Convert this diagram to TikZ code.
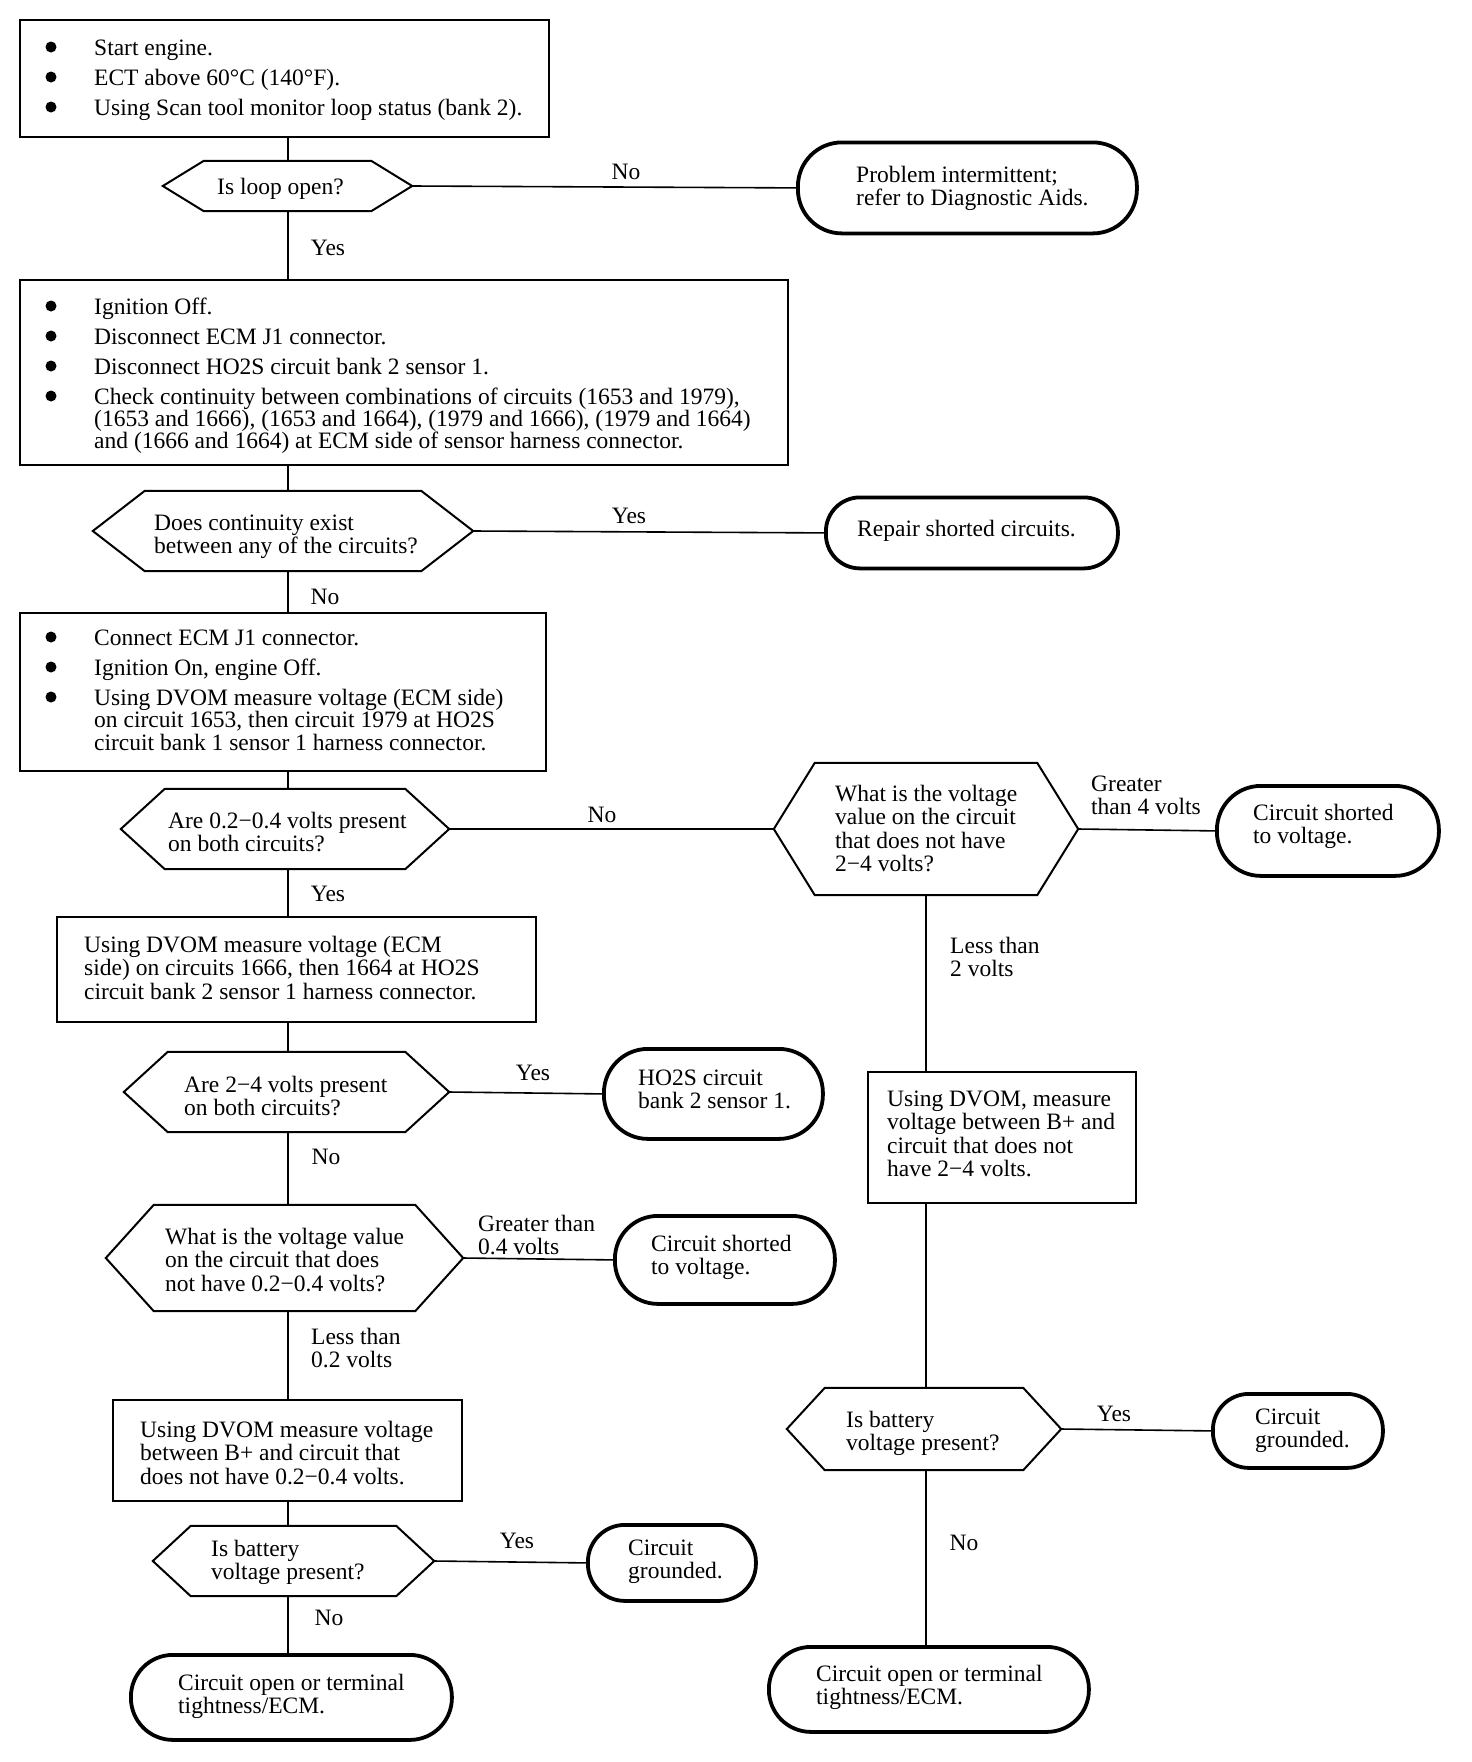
\documentclass[tikz,border=0pt]{standalone}
\usepackage{fontspec}
\setmainfont{Liberation Serif}
\newcommand{\bitem}{\hspace*{50pt}}
\newcommand{\hexdraw}[2]{\draw[hexline] (#1.west) -- ([xshift=#2pt]#1.north west) -- ([xshift=-#2pt]#1.north east) -- (#1.east) -- ([xshift=-#2pt]#1.south east) -- ([xshift=#2pt]#1.south west) -- cycle;}
\tikzset{
  fnt/.style={font=\fontsize{23.5}{23.5}\selectfont},
  boxst/.style={draw, line width=2pt, rectangle, inner sep=0pt, anchor=north west},
  hexst/.style={rectangle, inner sep=0pt, anchor=center},
  stad/.style={draw, line width=3.8pt, rectangle, rounded corners=#1, inner sep=0pt, anchor=north west},
  txt/.style={fnt, inner sep=0pt, anchor=base west},
  lab/.style={fnt, inner sep=0pt, anchor=center},
  conn/.style={line width=1.6pt},
  hexline/.style={line width=2pt, line join=miter},
  bulletdot/.style={fill=black},
}
\begin{document}
\begin{tikzpicture}[x=1pt, y=-1pt]
\fill[white] (0,0) rectangle (1472,1762);
\useasboundingbox (0,0) rectangle (1472,1762);
\coordinate (sp) at (288,0);
\coordinate (rs) at (926,0);

% ---------- rectangles ----------
\node[boxst, minimum width=529, minimum height=117] (B1) at (19,19) {};
\node[boxst, minimum width=768, minimum height=185] (B2) at (19,279) {};
\node[boxst, minimum width=526, minimum height=158] (B3) at (19,612) {};
\node[boxst, minimum width=479, minimum height=105] (B4) at (56,916) {};
\node[boxst, minimum width=349, minimum height=101] (B5) at (112,1399) {};
\node[boxst, minimum width=268, minimum height=131] (BR) at (867,1071) {};

% ---------- hexagons ----------
\node[hexst, minimum width=249, minimum height=50] (H1) at (287.5,186) {};
\node[hexst, minimum width=380, minimum height=80] (H2) at (283,531) {};
\node[hexst, minimum width=328, minimum height=80] (H3) at (285,829) {};
\node[hexst, minimum width=304, minimum height=132] (HR) at (926,829) {};
\node[hexst, minimum width=325, minimum height=80] (H4) at (286.5,1092) {};
\node[hexst, minimum width=357, minimum height=106] (H5) at (284.5,1258) {};
\node[hexst, minimum width=281, minimum height=70] (H6) at (293.5,1561) {};
\node[hexst, minimum width=274, minimum height=82] (H7) at (924,1429) {};
\hexdraw{H1}{41}
\hexdraw{H2}{52}
\hexdraw{H3}{44}
\hexdraw{HR}{41}
\hexdraw{H4}{44}
\hexdraw{H5}{48}
\hexdraw{H6}{38}
\hexdraw{H7}{38}

% ---------- terminals ----------
\node[stad=44pt, minimum width=339, minimum height=91] (S1) at (796,140.5) {};
\node[stad=34pt, minimum width=292, minimum height=71] (S2) at (824,495.5) {};
\node[stad=44pt, minimum width=222, minimum height=90] (SR1) at (1215,784) {};
\node[stad=44pt, minimum width=219, minimum height=90] (S4) at (602,1047) {};
\node[stad=43pt, minimum width=220, minimum height=88] (S5) at (613,1214) {};
\node[stad=37pt, minimum width=168, minimum height=76] (S6) at (586,1523) {};
\node[stad=42pt, minimum width=321, minimum height=85] (S7) at (129,1653) {};
\node[stad=36pt, minimum width=170, minimum height=74] (SR2) at (1211,1392) {};
\node[stad=42pt, minimum width=320, minimum height=85] (SR3) at (767,1645) {};

% ---------- connectors ----------
\draw[conn] (B1.south -| sp) -- (H1.north -| sp);
\draw[conn] (H1.east) -- (S1.west);
\draw[conn] (H1.south -| sp) -- (B2.north -| sp);
\draw[conn] (B2.south -| sp) -- (H2.north -| sp);
\draw[conn] (H2.east) -- (S2.west);
\draw[conn] (H2.south -| sp) -- (B3.north -| sp);
\draw[conn] (B3.south -| sp) -- (H3.north -| sp);
\draw[conn] (H3.east) -- (HR.west);
\draw[conn] (H3.south -| sp) -- (B4.north -| sp);
\draw[conn] (B4.south -| sp) -- (H4.north -| sp);
\draw[conn] (H4.east) -- (S4.west);
\draw[conn] (H4.south -| sp) -- (H5.north -| sp);
\draw[conn] (H5.east) -- (S5.west);
\draw[conn] (H5.south -| sp) -- (B5.north -| sp);
\draw[conn] (B5.south -| sp) -- (H6.north -| sp);
\draw[conn] (H6.east) -- (S6.west);
\draw[conn] (H6.south -| sp) -- (S7.north -| sp);
\draw[conn] (HR.east) -- (SR1.west);
\draw[conn] (HR.south -| rs) -- (BR.north -| rs);
\draw[conn] (BR.south -| rs) -- (H7.north -| rs);
\draw[conn] (H7.east) -- (SR2.west);
\draw[conn] (H7.south -| rs) -- (SR3.north -| rs);

% ---------- bullets ----------
\foreach \by in {47,77,107,306,336,366,396,637,667,697}
  \fill[bulletdot] (51,\by) circle (5.5);

% ---------- texts ----------
\node[txt] (t1) at (44,55) {\begin{tabular}[t]{@{}l@{}l@{}}
\bitem & Start engine.\\[6.5pt]
\bitem & ECT above 60°C (140°F).\\[6.5pt]
\bitem & Using Scan tool monitor loop status (bank 2).
\end{tabular}};
\node[txt] (t2) at (44,314) {\begin{tabular}[t]{@{}l@{}l@{}}
\bitem & Ignition Off.\\[6.5pt]
\bitem & Disconnect ECM J1 connector.\\[6.5pt]
\bitem & Disconnect HO2S circuit bank 2 sensor 1.\\[6.5pt]
\bitem & Check continuity between combinations of circuits (1653 and 1979),\\[-1.5pt]
 & (1653 and 1666), (1653 and 1664), (1979 and 1666), (1979 and 1664)\\[-1.5pt]
 & and (1666 and 1664) at ECM side of sensor harness connector.
\end{tabular}};
\node[txt] (t3) at (44,645) {\begin{tabular}[t]{@{}l@{}l@{}}
\bitem & Connect ECM J1 connector.\\[6.5pt]
\bitem & Ignition On, engine Off.\\[6.5pt]
\bitem & Using DVOM measure voltage (ECM side)\\[-1pt]
 & on circuit 1653, then circuit 1979 at HO2S\\[-1pt]
 & circuit bank 1 sensor 1 harness connector.
\end{tabular}};
\node[txt] (t4) at (217,194) {Is loop open?};
\node[txt] (t5) at (856,182) {\begin{tabular}[t]{@{}l@{}}Problem intermittent;\\refer to Diagnostic Aids.\end{tabular}};
\node[txt] (t6) at (154,530) {\begin{tabular}[t]{@{}l@{}}Does continuity exist\\between any of the circuits?\end{tabular}};
\node[txt] (t7) at (857,536) {Repair shorted circuits.};
\node[txt] (t8) at (168,828) {\begin{tabular}[t]{@{}l@{}}Are 0.2−0.4 volts present\\on both circuits?\end{tabular}};
\node[txt] (t9) at (835,801) {\begin{tabular}[t]{@{}l@{}}What is the voltage\\value on the circuit\\that does not have\\2−4 volts?\end{tabular}};
\node[txt] (t10) at (1091,791) {\begin{tabular}[t]{@{}l@{}}Greater\\than 4 volts\end{tabular}};
\node[txt] (t11) at (1253,820) {\begin{tabular}[t]{@{}l@{}}Circuit shorted\\to voltage.\end{tabular}};
\node[txt] (t12) at (950,953) {\begin{tabular}[t]{@{}l@{}}Less than\\2 volts\end{tabular}};
\node[txt] (t13) at (887,1106) {\begin{tabular}[t]{@{}l@{}}Using DVOM, measure\\voltage between B+ and\\circuit that does not\\have 2−4 volts.\end{tabular}};
\node[txt] (t14) at (84,952) {\begin{tabular}[t]{@{}l@{}}Using DVOM measure voltage (ECM\\side) on circuits 1666, then 1664 at HO2S\\circuit bank 2 sensor 1 harness connector.\end{tabular}};
\node[txt] (t15) at (184,1092) {\begin{tabular}[t]{@{}l@{}}Are 2−4 volts present\\on both circuits?\end{tabular}};
\node[txt] (t17) at (638,1085) {\begin{tabular}[t]{@{}l@{}}HO2S circuit\\bank 2 sensor 1.\end{tabular}};
\node[txt] (t19) at (165,1244) {\begin{tabular}[t]{@{}l@{}}What is the voltage value\\on the circuit that does\\not have 0.2−0.4 volts?\end{tabular}};
\node[txt] (t20) at (478,1231) {\begin{tabular}[t]{@{}l@{}}Greater than\\0.4 volts\end{tabular}};
\node[txt] (t21) at (651,1251) {\begin{tabular}[t]{@{}l@{}}Circuit shorted\\to voltage.\end{tabular}};
\node[txt] (t22) at (311,1344) {\begin{tabular}[t]{@{}l@{}}Less than\\0.2 volts\end{tabular}};
\node[txt] (t23) at (140,1437) {\begin{tabular}[t]{@{}l@{}}Using DVOM measure voltage\\between B+ and circuit that\\does not have 0.2−0.4 volts.\end{tabular}};
\node[txt] (t24) at (211,1556) {\begin{tabular}[t]{@{}l@{}}Is battery\\voltage present?\end{tabular}};
\node[txt] (t26) at (628,1555) {\begin{tabular}[t]{@{}l@{}}Circuit\\grounded.\end{tabular}};
\node[txt] (t28) at (178,1690) {\begin{tabular}[t]{@{}l@{}}Circuit open or terminal\\tightness/ECM.\end{tabular}};
\node[txt] (t29) at (846,1427) {\begin{tabular}[t]{@{}l@{}}Is battery\\voltage present?\end{tabular}};
\node[txt] (t31) at (1255,1424) {\begin{tabular}[t]{@{}l@{}}Circuit\\grounded.\end{tabular}};
\node[txt] (t33) at (816,1681) {\begin{tabular}[t]{@{}l@{}}Circuit open or terminal\\tightness/ECM.\end{tabular}};

% ---------- branch labels ----------
\node[lab] (l1) at (626,172) {No};
\node[lab] (l2) at (328,248) {Yes};
\node[lab] (l3) at (629,516) {Yes};
\node[lab] (l4) at (325,597) {No};
\node[lab] (l5) at (602,815) {No};
\node[lab] (l6) at (328,894) {Yes};
\node[lab] (l7) at (533,1073) {Yes};
\node[lab] (l8) at (326,1157) {No};
\node[lab] (l9) at (517,1541) {Yes};
\node[lab] (l10) at (329,1618) {No};
\node[lab] (l11) at (1114,1414) {Yes};
\node[lab] (l12) at (964,1543) {No};
\end{tikzpicture}
\end{document}
